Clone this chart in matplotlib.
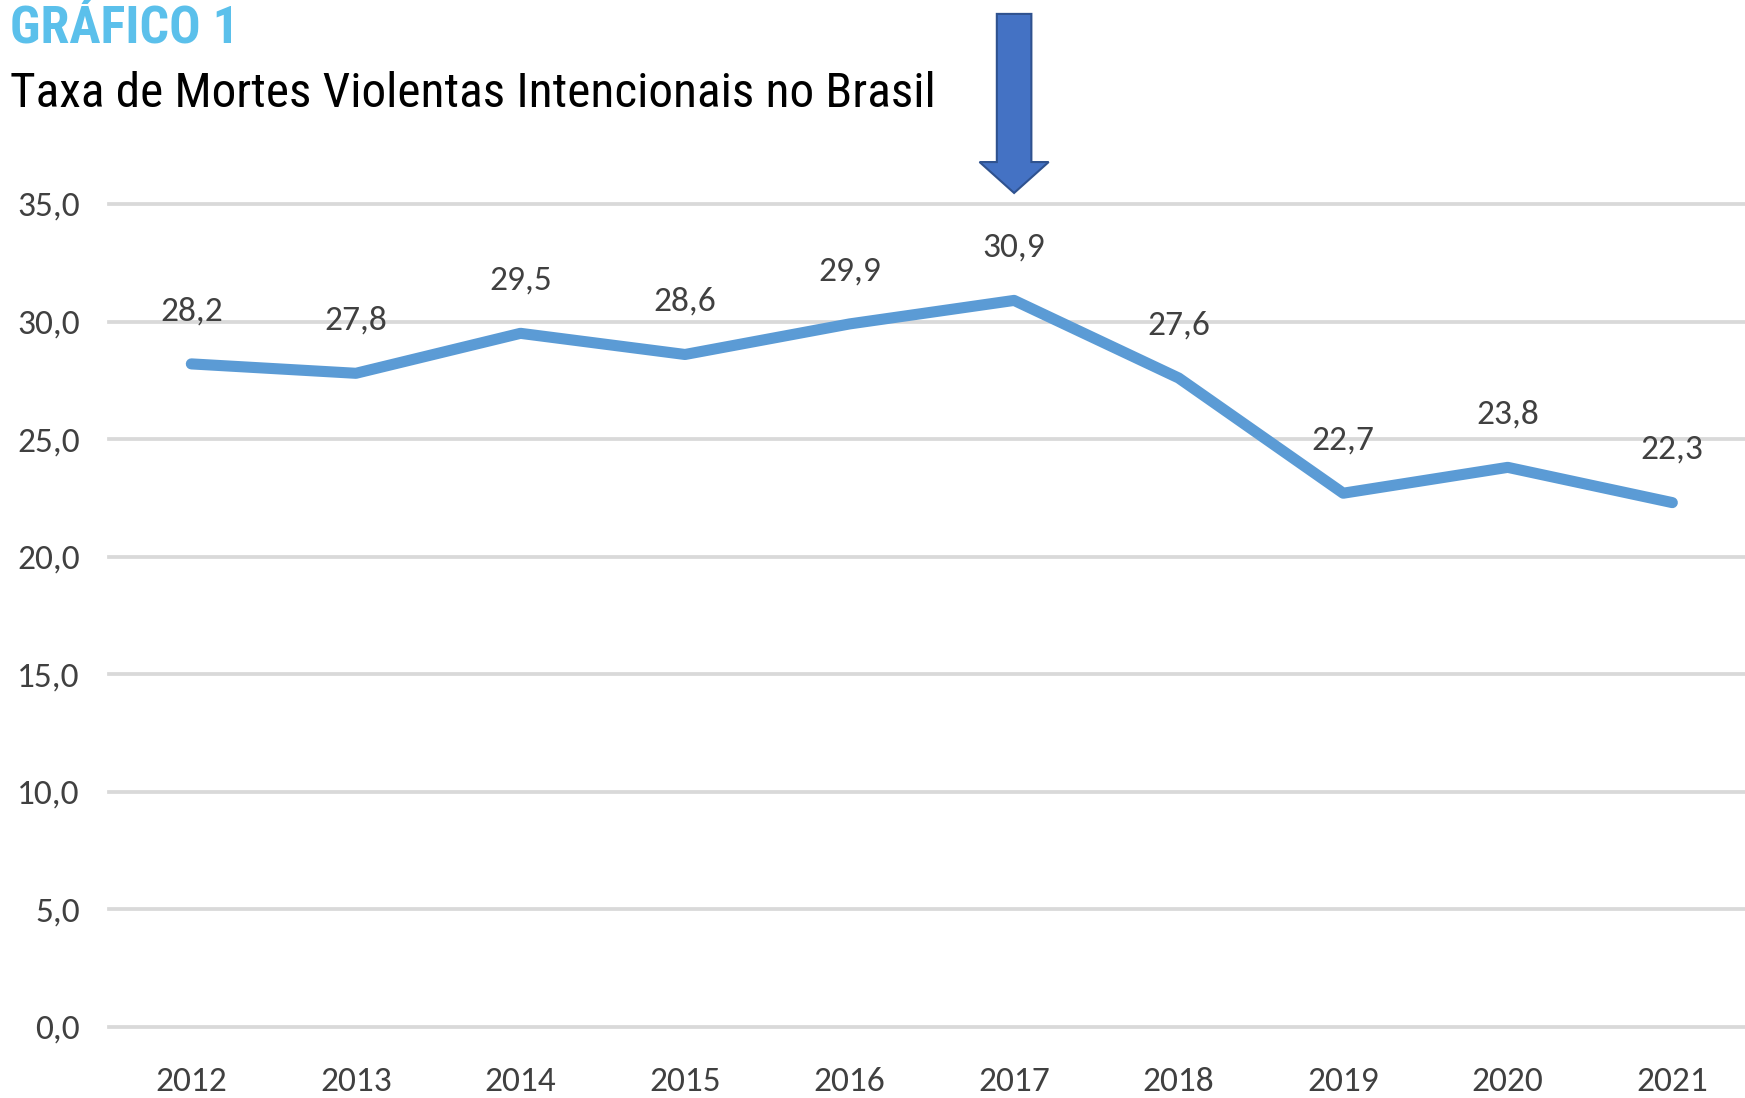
import matplotlib
matplotlib.use("Agg")
from matplotlib import pyplot as plt
from matplotlib.patches import Polygon
from matplotlib.transforms import blended_transform_factory

#--- Data
years = ["2012", "2013", "2014", "2015", "2016", "2017", "2018", "2019", "2020", "2021"]
rates = [28.2, 27.8, 29.5, 28.6, 29.9, 30.9, 27.6, 22.7, 23.8, 22.3]
yticks = [0, 5, 10, 15, 20, 25, 30, 35]
highlight_year = "2017"

#--- Styles
font_axis = ["Carlito", "Open Sans Condensed", "DejaVu Sans"]
font_title = ["Roboto Condensed", "Open Sans Condensed", "DejaVu Sans"]
text_grey = "#404040"
line_blue = "#5B9BD5"
grid_grey = "#D9D9D9"

def br(v):
    return f"{v:.1f}".replace(".", ",")

fig = plt.figure(figsize=(17.45, 10.98), dpi=100)
# the plot area runs a bit past the right edge of the image, as in the original
ax = fig.add_axes([0.0625, 0.0647, 0.943, 0.7495])

x = list(range(len(years)))
ax.plot(x, rates, color=line_blue, linewidth=8, solid_capstyle="round",
        solid_joinstyle="round", zorder=3)

#--- data labels
for xi, v in zip(x, rates):
    ax.annotate(br(v), (xi, v), xytext=(0, 38), textcoords="offset points",
                ha="center", va="center", fontsize=25.5, color=text_grey,
                family=font_axis, zorder=4)

#--- axes
ax.set_xlim(-0.5, len(years) - 0.5)
ax.set_ylim(0, 35)
ax.set_yticks(yticks)
ax.set_yticklabels([br(t) for t in yticks], family=font_axis, fontsize=25.5, color=text_grey)
ax.set_xticks(x)
ax.set_xticklabels(years, family=font_axis, fontsize=25.5, color=text_grey)
ax.tick_params(axis="both", length=0)
ax.tick_params(axis="y", pad=21)
ax.tick_params(axis="x", pad=29)
for s in ax.spines.values():
    s.set_visible(False)
for t in yticks:
    ax.axhline(t, color=grid_grey, linewidth=2.7, zorder=1, clip_on=False)

#--- arrow over the peak year
hx = years.index(highlight_year)
trans = blended_transform_factory(ax.transData, ax.transAxes)
shaft = 0.105
head = 0.21
arrow_pts = [
    (hx - shaft, 1.231), (hx + shaft, 1.231), (hx + shaft, 1.051),
    (hx + head, 1.051), (hx, 1.0134), (hx - head, 1.051), (hx - shaft, 1.051),
]
ax.add_patch(Polygon(arrow_pts, closed=True, transform=trans, clip_on=False,
                     facecolor="#4472C4", edgecolor="#2F528F", linewidth=1.5, zorder=5))

#--- titles
fig.text(0.006, 0.961, "GRÁFICO 1", fontsize=37.5, fontweight="bold", color="#5BC0EB",
         family=font_title, va="baseline", ha="left")
fig.text(0.006, 0.903, "Taxa de Mortes Violentas Intencionais no Brasil", fontsize=35.5,
         color="black", family=font_title, va="baseline", ha="left")

fig.savefig("out.png", dpi=100)
